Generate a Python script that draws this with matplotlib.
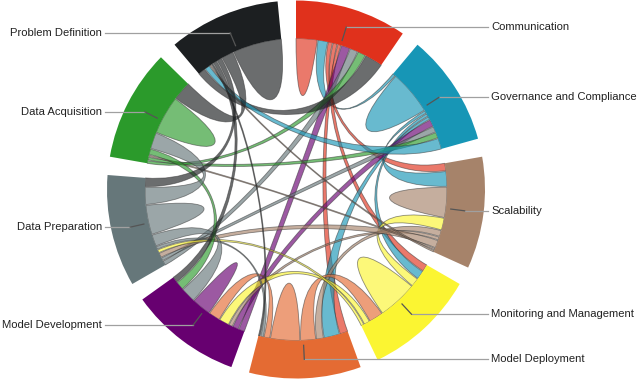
import numpy as np
import matplotlib.pyplot as plt
from matplotlib.path import Path
from matplotlib.patches import PathPatch, Wedge
from matplotlib.colors import to_rgba

plt.rcParams['font.family'] = ['Liberation Sans', 'DejaVu Sans']

names = ["Communication", "Governance and Compliance", "Scalability",
         "Monitoring and Management", "Model Deployment", "Model Development",
         "Data Preparation", "Data Acquisition", "Problem Definition"]
colors = ["#e0311c", "#1796b6", "#a6836a", "#fbf532", "#e46b33",
          "#670070", "#66777a", "#2b9a2b", "#1c1f21"]

# ribbons: segment at each end, width at each end, colour (segment index)
link_a = [0, 1, 2, 3, 4, 5, 6, 7, 8,
          0, 0, 0, 0, 0, 0, 0, 0,
          1, 1, 1, 1, 1, 1, 1,
          2, 2, 2, 2, 2, 2,
          3, 3, 3,
          4, 4, 4,
          5, 5, 5,
          6, 6,
          7]
link_b = [0, 1, 2, 3, 4, 5, 6, 7, 8,
          1, 2, 3, 4, 5, 6, 7, 8,
          2, 3, 4, 5, 6, 7, 8,
          3, 4, 5, 6, 7, 8,
          4, 5, 6,
          5, 6, 8,
          6, 7, 8,
          7, 8,
          8]
width_a = [4, 8, 5, 7, 5.5, 4, 5, 7, 10,
           3.8, 1.6, 1.6, 1.2, 3.3, 3.0, 3.0, 7.0,
           1.0, 1.0, 1.0, 2.5, 2.0, 2.0, 4.0,
           4.0, 2.0, 1.0, 2.5, 0.5, 0.5,
           5.0, 2.0, 1.0,
           2.2, 1.0, 0.6,
           6.5, 3.5, 2.5,
           6.0, 3.0,
           7.0]
width_b = [4, 8, 5, 7, 5.5, 4, 5, 7, 10,
           1.0, 2.5, 2.5, 3.0, 2.5, 1.5, 1.0, 3.0,
           5.0, 3.0, 6.0, 2.5, 1.0, 1.0, 2.0,
           3.0, 2.7, 1.5, 1.5, 0.5, 0.5,
           5.8, 4.2, 1.0,
           4.9, 1.0, 0.6,
           4.0, 2.0, 1.5,
           6.0, 2.0,
           5.0]
link_col = [0, 1, 2, 3, 4, 5, 6, 7, 8,
            1, 0, 0, 0, 5, 6, 7, 8,
            1, 1, 1, 5, 6, 7, 1,
            3, 2, 2, 2, 2, 2,
            4, 3, 3,
            4, 6, 8,
            6, 7, 8,
            6, 8,
            8]

n = len(names)
cx, cy = 296, 190.5
r_in, r_out = 151, 189
gap = 5.6
span = 360 / n - gap
pad = 0.3
ctr = np.array([cx, cy])


def pt(t, r):
    a = np.radians(t)
    return np.array([cx + r * np.cos(a), cy + r * np.sin(a)])


# collect ribbon ends per segment, ordered by partner index
ends = {i: [] for i in range(n)}
for k in range(len(link_a)):
    a, b = link_a[k], link_b[k]
    ends[a].append((b, k, 0, width_a[k]))
    ends[b].append((a, k, 1, width_b[k]))

pos = {}
for i in range(n):
    lst = sorted(ends[i], key=lambda e: (e[0], e[1], e[2]))
    tot = sum(e[3] for e in lst)
    scale = (span - pad * (len(lst) - 1)) / tot
    t = 90 - i * (span + gap)
    for partner, k, side, w in lst:
        pos[(k, side)] = (t, t - w * scale)
        t -= w * scale + pad


def arc(t1, t2, m=24):
    return [pt(t, r_in) for t in np.linspace(t1, t2, m)]


fig = plt.figure(figsize=(6.4, 3.8), dpi=100)
ax = fig.add_axes([0, 0, 1, 1])
ax.set_xlim(0, 640)
ax.set_ylim(0, 380)
ax.set_aspect('equal')
ax.axis('off')

kk = 0.5
for k in range(len(link_a)):
    a1, a2 = pos[(k, 0)]
    b1, b2 = pos[(k, 1)]
    if link_a[k] == link_b[k]:
        # self link: one petal over both ends
        A = arc(a1, b2, 40)
        verts = list(A)
        codes = [Path.MOVETO] + [Path.LINETO] * (len(A) - 1)
    else:
        A = arc(a1, a2)
        B = arc(b1, b2)
        verts = list(A)
        codes = [Path.MOVETO] + [Path.LINETO] * (len(A) - 1)
        verts += [ctr + kk * (A[-1] - ctr), ctr + kk * (B[0] - ctr), B[0]]
        codes += [Path.CURVE4] * 3
        verts += B[1:]
        codes += [Path.LINETO] * (len(B) - 1)
    verts += [ctr + kk * (verts[-1] - ctr), ctr + kk * (A[0] - ctr), A[0]]
    codes += [Path.CURVE4] * 3
    verts.append(A[0])
    codes.append(Path.CLOSEPOLY)
    ax.add_patch(PathPatch(Path(verts, codes),
                           facecolor=to_rgba(colors[link_col[k]], 0.65),
                           edgecolor=(0.2, 0.2, 0.2, 0.55), lw=0.6))

for i in range(n):
    t0 = 90 - i * (span + gap)
    ax.add_patch(Wedge((cx, cy), r_out, t0 - span, t0, width=r_out - r_in,
                       facecolor=colors[i], edgecolor='none'))
    tm = t0 - span / 2
    p = pt(tm, 170)
    q = pt(tm, 156)
    if np.cos(np.radians(tm)) > 0:
        ax.plot([488, p[0]], [p[1], p[1]], color='#a0a0a0', lw=0.9)
        ax.text(491, p[1], names[i], ha='left', va='center', fontsize=8.1,
                color='#222222')
    else:
        ax.plot([105, p[0]], [p[1], p[1]], color='#a0a0a0', lw=0.9)
        ax.text(102, p[1], names[i], ha='right', va='center', fontsize=8.1,
                color='#222222')
    ax.plot([p[0], q[0]], [p[1], q[1]], color='#555555', lw=0.9)

fig.savefig('out.png', dpi=100)
